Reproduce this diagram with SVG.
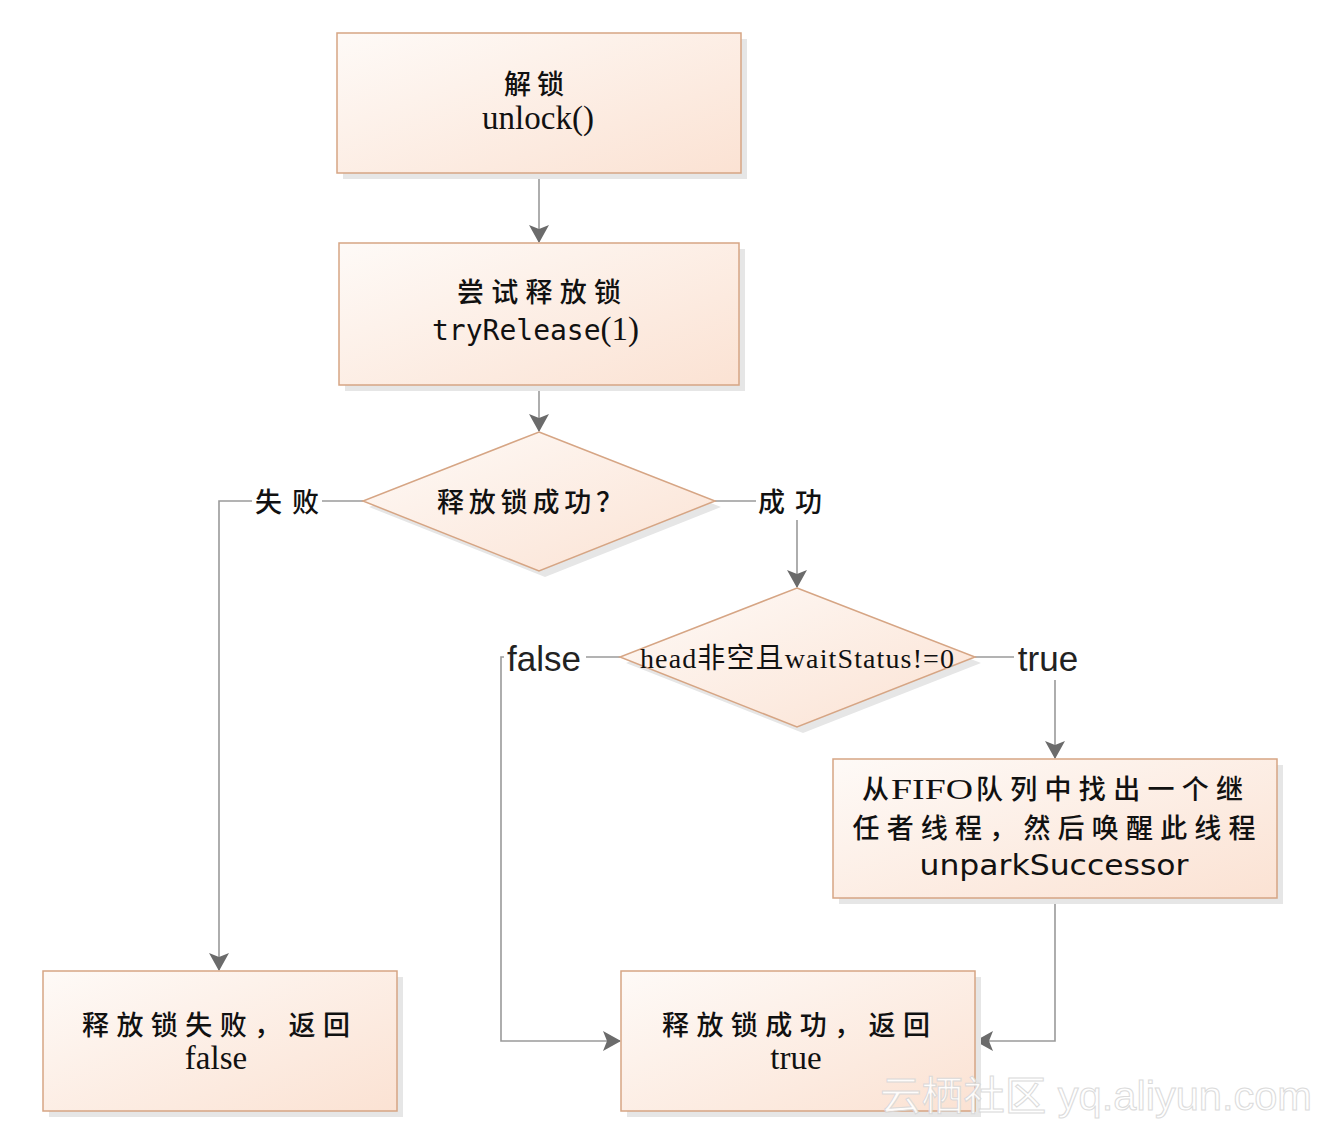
<svg xmlns="http://www.w3.org/2000/svg" width="1326" height="1130" viewBox="0 0 1326 1130">
<style>
.box{fill:url(#g);stroke:#d6a584;stroke-width:1.5}
.sh{fill:#e6e6e6}
.c{fill:none;stroke:#9a9a9a;stroke-width:1.6}
.cjk{font-family:"Noto Sans CJK SC",serif;font-size:27px;font-weight:500;fill:#111;text-anchor:middle}
.ser{font-family:"Liberation Serif",serif;font-size:33px;fill:#111;text-anchor:middle}
.sans{font-family:"DejaVu Sans","Noto Sans",sans-serif;font-size:28px;fill:#111;text-anchor:middle}
.mono{font-family:"DejaVu Sans Mono",monospace;font-size:28px;fill:#111}
.lbl{font-family:"Liberation Sans",Arial,sans-serif;font-size:35px;fill:#222;text-anchor:middle}
.wm{font-family:"Liberation Sans","Noto Sans CJK SC",sans-serif;font-size:40px;fill:#ffffff;stroke:#d8d8d8;stroke-width:1;opacity:0.9}
</style>
<defs>
<linearGradient id="g" x1="0" y1="0" x2="1" y2="1">
<stop offset="0" stop-color="#fefaf7"/>
<stop offset="1" stop-color="#fbe2d3"/>
</linearGradient>
<marker id="a" markerWidth="18" markerHeight="22" refX="17" refY="11" orient="auto" markerUnits="userSpaceOnUse">
<path d="M0,1 L18,11 L0,21 L4,11 Z" fill="#6b6b6b"/>
</marker>
</defs>
<rect width="1326" height="1130" fill="#ffffff"/>

<g id="connectors">
<path class="c" d="M539,173 V242" marker-end="url(#a)"/>
<path class="c" d="M539,385 V431" marker-end="url(#a)"/>
<path class="c" d="M363,501 H322 M252,501 H219 V970" marker-end="url(#a)"/>
<path class="c" d="M715,501 H756 M797,520 V587" marker-end="url(#a)"/>
<path class="c" d="M620,657 H586 M504,657 H501 V1041 H620" marker-end="url(#a)"/>
<path class="c" d="M975,657 H1014 M1055,680 V758" marker-end="url(#a)"/>
<path class="c" d="M1055,898 V1041 H976" marker-end="url(#a)"/>
</g>

<g id="n1">
<rect class="sh" x="343" y="39" width="404" height="140"/>
<rect class="box" x="337" y="33" width="404" height="140"/>
<text class="cjk" x="537" y="94" letter-spacing="6">解锁</text>
<text class="ser" x="538" y="129" font-size="32">unlock()</text>
</g>

<g id="n2">
<rect class="sh" x="345" y="249" width="400" height="142"/>
<rect class="box" x="339" y="243" width="400" height="142"/>
<text class="cjk" x="539" y="302" textLength="164" lengthAdjust="spacing">尝试释放锁</text>
<text x="432" y="340"><tspan class="mono">tryRelease</tspan><tspan style="font-family:'Liberation Serif',serif;font-size:33px;fill:#111">(1)</tspan></text>
</g>

<g id="d1">
<polygon class="sh" points="545,438 721,507 545,577 369,507"/>
<polygon class="box" points="539,432 715,501 539,571 363,501"/>
<text class="cjk" x="530" y="512" textLength="186" lengthAdjust="spacing">释放锁成功？</text>
</g>

<g id="l1"><text class="cjk" x="287" y="512" textLength="64" lengthAdjust="spacing">失败</text></g>
<g id="l2"><text class="cjk" x="790" y="512" textLength="64" lengthAdjust="spacing">成功</text></g>

<g id="d2">
<polygon class="sh" points="803,594 981,663 803,733 626,663"/>
<polygon class="box" points="797,588 975,657 797,727 620,657"/>
<text x="797" y="668" textLength="314" lengthAdjust="spacing" style="font-family:'Liberation Serif','Noto Sans CJK SC',serif;font-size:28px;fill:#111;text-anchor:middle">head非空且waitStatus!=0</text>
</g>

<g id="l3"><text class="lbl" x="544" y="671">false</text></g>
<g id="l4"><text class="lbl" x="1048" y="671">true</text></g>

<g id="n3">
<rect class="sh" x="839" y="765" width="444" height="139"/>
<rect class="box" x="833" y="759" width="444" height="139"/>
<text class="cjk" x="862" y="799" font-size="26" style="text-anchor:start">从</text>
<text x="891" y="799" textLength="82" lengthAdjust="spacingAndGlyphs" style="font-family:'Liberation Serif',serif;font-size:30px;fill:#111">FIFO</text>
<text class="cjk" x="976" y="799" font-size="26" textLength="267" lengthAdjust="spacing" style="text-anchor:start">队列中找出一个继</text>
<text class="cjk" x="1054" y="838" font-size="26" textLength="403" lengthAdjust="spacing">任者线程，然后唤醒此线程</text>
<text class="sans" x="1054" y="875" textLength="269" lengthAdjust="spacingAndGlyphs">unparkSuccessor</text>
</g>

<g id="n4">
<rect class="sh" x="49" y="977" width="354" height="140"/>
<rect class="box" x="43" y="971" width="354" height="140"/>
<text class="cjk" x="216" y="1035" textLength="268" lengthAdjust="spacing">释放锁失败，返回</text>
<text class="ser" x="216" y="1069">false</text>
</g>

<g id="n5">
<rect class="sh" x="627" y="977" width="354" height="140"/>
<rect class="box" x="621" y="971" width="354" height="140"/>
<text class="cjk" x="796" y="1035" textLength="268" lengthAdjust="spacing">释放锁成功，返回</text>
<text class="ser" x="796" y="1069">true</text>
</g>

<text class="wm" x="880" y="1110" textLength="432" lengthAdjust="spacingAndGlyphs">云栖社区 yq.aliyun.com</text>
</svg>
